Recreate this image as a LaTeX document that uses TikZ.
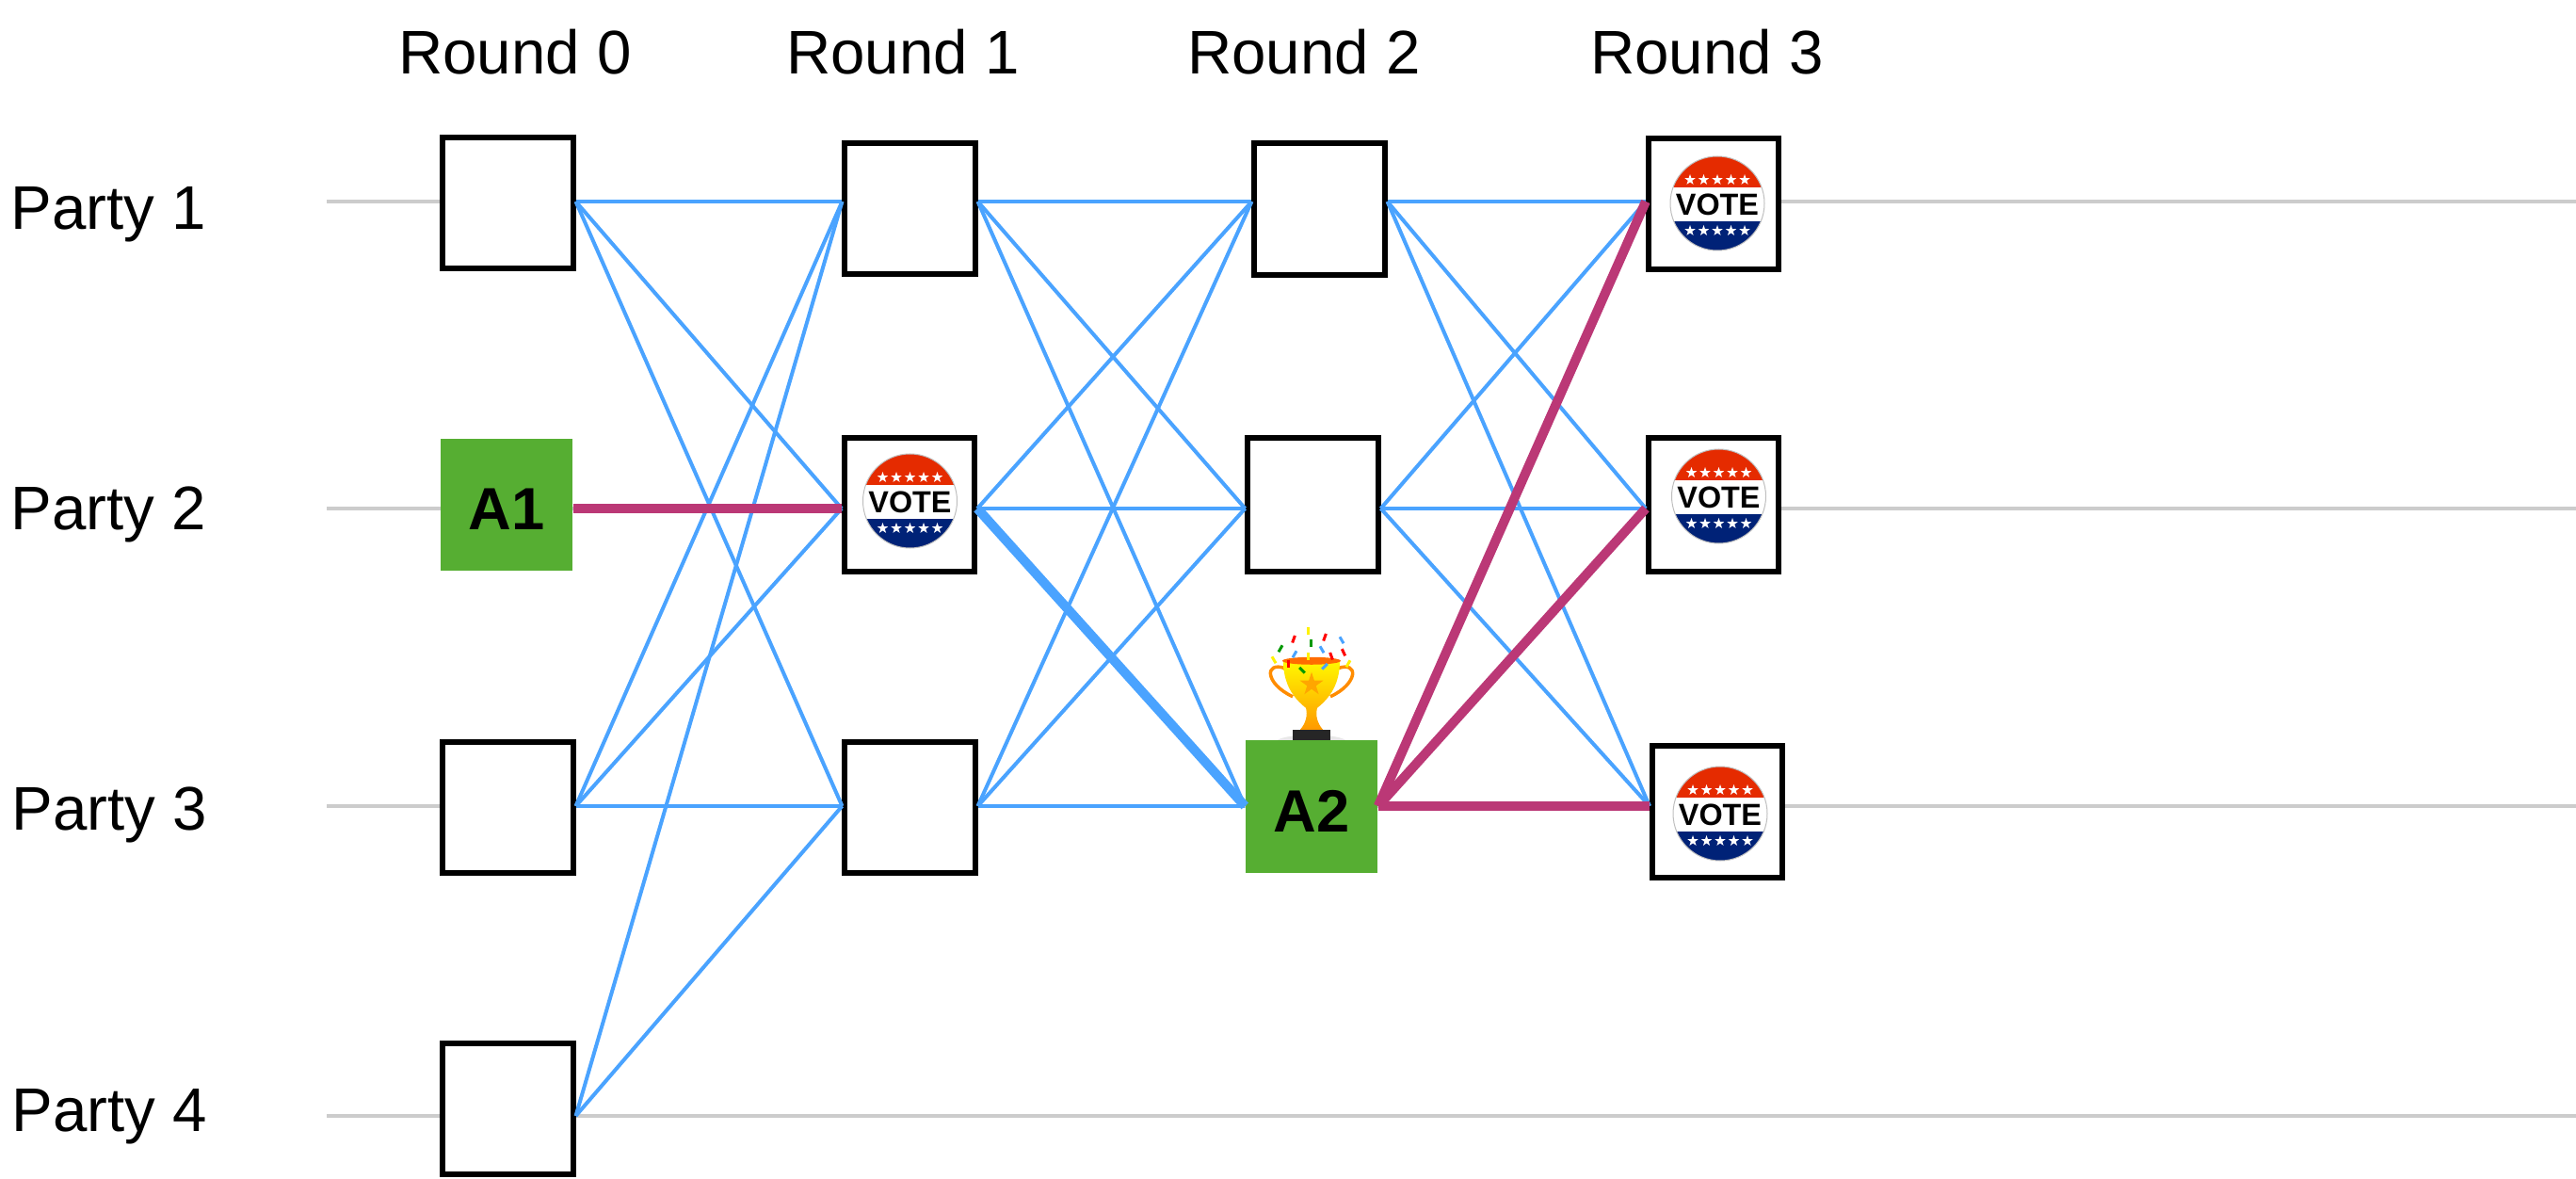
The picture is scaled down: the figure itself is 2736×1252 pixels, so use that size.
\documentclass[tikz,border=0pt]{standalone}
\usepackage{fontspec}
\setmainfont{Liberation Sans}
\usepackage{tikz}
\definecolor{lanegray}{HTML}{CCCCCC}
\definecolor{msgblue}{HTML}{4AA3FF}
\definecolor{advpink}{HTML}{BB3876}
\definecolor{advgreen}{HTML}{56AE32}
\definecolor{badgered}{HTML}{E52B00}
\definecolor{badgeblue}{HTML}{002277}
\tikzset{
   lane/.style={draw=lanegray,line width=0.04cm},
   cell/.style={draw=black,fill=white,line width=0.06cm,minimum width=1.38cm,minimum height=1.39cm,inner sep=0pt},
   tallcell/.style={cell,minimum height=1.42cm},
   adv/.style={fill=advgreen,minimum width=1.40cm,minimum height=1.40cm,inner sep=0pt,text height=0.53cm,font=\fontsize{18}{20}\selectfont\bfseries},
   head/.style={anchor=base,font=\fontsize{18.6}{20}\selectfont},
   msg/.style={draw=msgblue,line width=0.04cm},
   bigmsg/.style={draw=msgblue,line width=0.1cm},
   win/.style={draw=advpink,line width=0.1cm},
}
% one white star, used on the badge
\newcommand{\badgestar}[2]{
   \fill[white,shift={(#1,#2)}] (-90:6) -- (-54:2.4) -- (-18:6) -- (18:2.4) -- (54:6) -- (90:2.4)
      -- (126:6) -- (162:2.4) -- (198:6) -- (234:2.4) -- cycle;
}
\tikzset{
   votebadge/.pic={
      \begin{scope}
         \clip (0,0) circle (50);
         \fill[white] (-51,-51) rectangle (51,51);
         \fill[badgered] (-51,-51) rectangle (51,-17);
         \fill[badgeblue] (-51,19) rectangle (51,51);
      \end{scope}
      \draw[black!25,line width=0.01cm] (0,0) circle (50);
      \foreach \x in {-29,-14.5,0,14.5,29} {
         \badgestar{\x}{-25}
         \badgestar{\x}{29}
      }
      \node[font=\fontsize{9.2}{10}\selectfont\bfseries,inner sep=0pt] at (0,1) {VOTE};
   },
   trophy/.pic={
      \fill[black!9] (-36,0) .. controls (-25,-7) and (25,-7) .. (36,0) -- cycle;
      \draw[draw=orange!90!yellow,line width=0.035cm] (-28,-76) .. controls (-50,-84) and (-50,-60) .. (-20,-46);
      \draw[draw=orange!90!yellow,line width=0.035cm] (28,-76) .. controls (50,-84) and (50,-60) .. (20,-46);
      \shade[top color=yellow!95!orange,bottom color=orange!80!yellow] (-30,-84) -- (30,-84)
         .. controls (30,-60) and (20,-45) .. (6,-34) .. controls (4,-26) and (6,-18) .. (12,-11) -- (-12,-11)
         .. controls (-6,-18) and (-4,-26) .. (-6,-34) .. controls (-20,-45) and (-30,-60) .. (-30,-84) -- cycle;
      \fill[orange!85!red] (0,-84) ellipse (31 and 4);
      \fill[orange!70!yellow,shift={(0,-59)}] (-90:13) -- (-54:5) -- (-18:13) -- (18:5) -- (54:13) -- (90:5)
         -- (126:13) -- (162:5) -- (198:13) -- (234:5) -- cycle;
      \fill[black!85] (-20,-11) rectangle (20,0);
      \foreach \x/\y/\a/\c in {-4/-116/0/yellow,-19/-107/-20/red,14/-109/-20/red,32/-106/30/msgblue,
         -33/-97/-30/green!60!black,-1/-103/0/green!60!black,11/-96/30/msgblue,34/-93/25/red,
         -18/-91/-30/msgblue,-4/-89/0/yellow,21/-89/20/red,-25/-81/0/red,14/-78/-45/msgblue,
         -10/-74/45/green!60!black,-40/-85/30/yellow,39/-81/-30/yellow} {
         \fill[\c,shift={(\x,\y)},rotate=\a] (-1.5,-4) rectangle (1.5,4);
      }
   },
}
\begin{document}
\begin{tikzpicture}[x=0.01cm,y=-0.01cm]
   \useasboundingbox (0,0) rectangle (2736,1252);
   % the four lanes
   \coordinate (l1) at (347,214);
   \coordinate (l2) at (347,540);
   \coordinate (l3) at (347,856);
   \coordinate (l4) at (347,1185);
   \coordinate (e1) at (2736,214);
   \coordinate (e2) at (2736,540);
   \coordinate (e3) at (2736,856);
   \coordinate (e4) at (2736,1185);
   \draw[lane] (l1) -- (e1);
   \draw[lane] (l2) -- (e2);
   \draw[lane] (l3) -- (e3);
   \draw[lane] (l4) -- (e4);
   % headings
   \node[head] (round0) at (547,79) {Round 0};
   \node[head] (round1) at (959,79) {Round 1};
   \node[head] (round2) at (1385,79) {Round 2};
   \node[head] (round3) at (1813,79) {Round 3};
   \node[head] (party1) at (115,244) {Party 1};
   \node[head] (party2) at (115,562) {Party 2};
   \node[head] (party3) at (116,881) {Party 3};
   \node[head] (party4) at (116,1201) {Party 4};
   % boxes
   \node[cell] (r0p1) at (539.5,215.5) {};
   \node[adv]  (r0p2) at (538,536) {A1};
   \node[cell] (r0p3) at (539.5,857.5) {};
   \node[cell] (r0p4) at (539.5,1177.5) {};
   \node[cell] (r1p1) at (966.5,221.5) {};
   \node[tallcell] (r1p2) at (966,536) {};
   \node[cell] (r1p3) at (966.5,857.5) {};
   \node[cell] (r2p1) at (1401.5,222) {};
   \node[tallcell] (r2p2) at (1394.5,536) {};
   \node[adv]  (r2p3) at (1393,856.5) {A2};
   \node[cell] (r3p1) at (1820,216.5) {};
   \node[tallcell] (r3p2) at (1820,536) {};
   \node[cell] (r3p3) at (1824,862) {};
   % badges and the cup
   \pic at (966.5,532) {votebadge};
   \pic at (1824,216) {votebadge};
   \pic at (1825.5,527) {votebadge};
   \pic at (1827,864) {votebadge};
   \pic at (r2p3.north) {trophy};
   % round 0 to round 1
   \path[msg]
   (r0p1.east |- l1) edge (r1p1.west |- l1)
   (r0p1.east |- l1) edge (r1p2.west |- l2)
   (r0p1.east |- l1) edge (r1p3.west |- l3)
   (r0p3.east |- l3) edge (r1p1.west |- l1)
   (r0p3.east |- l3) edge (r1p2.west |- l2)
   (r0p3.east |- l3) edge (r1p3.west |- l3)
   (r0p4.east |- l4) edge (r1p1.west |- l1)
   (r0p4.east |- l4) edge (r1p3.west |- l3);
   % round 1 to round 2
   \path[msg]
   (r1p1.east |- l1) edge (r2p1.west |- l1)
   (r1p1.east |- l1) edge (r2p2.west |- l2)
   (r1p1.east |- l1) edge (r2p3.west |- l3)
   (r1p2.east |- l2) edge (r2p1.west |- l1)
   (r1p2.east |- l2) edge (r2p2.west |- l2)
   (r1p3.east |- l3) edge (r2p1.west |- l1)
   (r1p3.east |- l3) edge (r2p2.west |- l2)
   (r1p3.east |- l3) edge (r2p3.west |- l3);
   \draw[bigmsg] (r1p2.east |- l2) -- (r2p3.west |- l3);
   % round 2 to round 3
   \path[msg]
   (r2p1.east |- l1) edge (r3p1.west |- l1)
   (r2p1.east |- l1) edge (r3p2.west |- l2)
   (r2p1.east |- l1) edge (r3p3.west |- l3)
   (r2p2.east |- l2) edge (r3p1.west |- l1)
   (r2p2.east |- l2) edge (r3p2.west |- l2)
   (r2p2.east |- l2) edge (r3p3.west |- l3);
   % what the two adversaries do
   \draw[win] (r0p2.east |- l2) -- (r1p2.west |- l2);
   \path[win]
   (r2p3.east |- l3) edge (r3p1.west |- l1)
   (r2p3.east |- l3) edge (r3p2.west |- l2)
   (r2p3.east |- l3) edge (r3p3.west |- l3);
\end{tikzpicture}
\end{document}
